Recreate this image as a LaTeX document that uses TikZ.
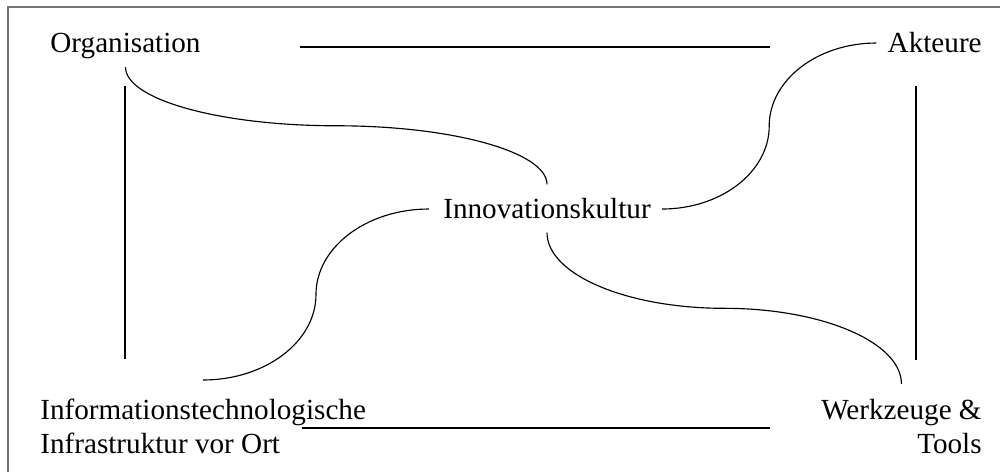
\documentclass[tikz,border=0pt]{standalone}
\usepackage{fontspec}
\setmainfont{Liberation Serif}
\usetikzlibrary{calc}
\begin{document}
\begin{tikzpicture}[x=0.02cm,y=-0.02cm,
  lbl/.style={inner sep=0pt,font=\fontsize{16.6}{19.3}\selectfont},
  conn/.style={line width=0.65pt},
  framestyle/.style={draw=black!55,line width=1.1pt}]
\useasboundingbox (0,0) rectangle (1000,472);
\draw[framestyle] (8,473) -- (8,7) -- (1001,7);
% nodes
\node[lbl,anchor=base] (org) at (125.5,53) {Organisation};
\node[lbl,anchor=base east] (akt) at (982,53) {Akteure};
\node[lbl,anchor=base] (inn) at (547,219) {Innovationskultur};
\node[lbl,anchor=north west,align=left] (inf) at (40,399) {Informationstechnologische\\Infrastruktur vor Ort};
\node[lbl,anchor=north east,align=right] (wer) at (982,399) {Werkzeuge \&\\Tools};
% connector ends
\coordinate (o1) at ($(org.south)+(0,7.5)$);
\coordinate (a1) at ($(akt.west)+(-11,0)$);
\coordinate (in) at ($(inn.north)+(0,-14)$);
\coordinate (ie) at ($(inn.east)+(11,0)$);
\coordinate (iw) at ($(inn.west)+(-14,0)$);
\coordinate (is) at ($(inn.south)+(0,13)$);
\coordinate (f1) at (203,380);
\coordinate (w1) at ($(wer.north)+(0,-15)$);
% straight lines
\coordinate (t1) at (300,47); \coordinate (t2) at (770,47);
\coordinate (b1) at (302,428); \coordinate (b2) at (770,428);
\coordinate (l1) at (125,86); \coordinate (l2) at (125,359);
\coordinate (r1) at (916,86); \coordinate (r2) at (916,360);
\draw[conn] (t1) -- (t2);
\draw[conn] (b1) -- (b2);
\draw[conn] (l1) -- (l2);
\draw[conn] (r1) -- (r2);
% S-curves
\coordinate (m1) at ($(o1)!0.5!(in)$);
\draw[conn] (o1) .. controls ($(o1)!0.552!(o1|-m1)$) and ($(m1)!0.552!(o1|-m1)$) .. (m1)
  .. controls ($(m1)!0.552!(in|-m1)$) and ($(in)!0.552!(in|-m1)$) .. (in);
\coordinate (m2) at ($(ie)!0.5!(a1)$);
\draw[conn] (ie) .. controls ($(ie)!0.552!(m2|-ie)$) and ($(m2)!0.552!(m2|-ie)$) .. (m2)
  .. controls ($(m2)!0.552!(m2|-a1)$) and ($(a1)!0.552!(m2|-a1)$) .. (a1);
\coordinate (m3) at ($(iw)!0.5!(f1)$);
\draw[conn] (iw) .. controls ($(iw)!0.552!(m3|-iw)$) and ($(m3)!0.552!(m3|-iw)$) .. (m3)
  .. controls ($(m3)!0.552!(m3|-f1)$) and ($(f1)!0.552!(m3|-f1)$) .. (f1);
\coordinate (m4) at ($(is)!0.5!(w1)$);
\draw[conn] (is) .. controls ($(is)!0.552!(is|-m4)$) and ($(m4)!0.552!(is|-m4)$) .. (m4)
  .. controls ($(m4)!0.552!(w1|-m4)$) and ($(w1)!0.552!(w1|-m4)$) .. (w1);
\end{tikzpicture}
\end{document}
